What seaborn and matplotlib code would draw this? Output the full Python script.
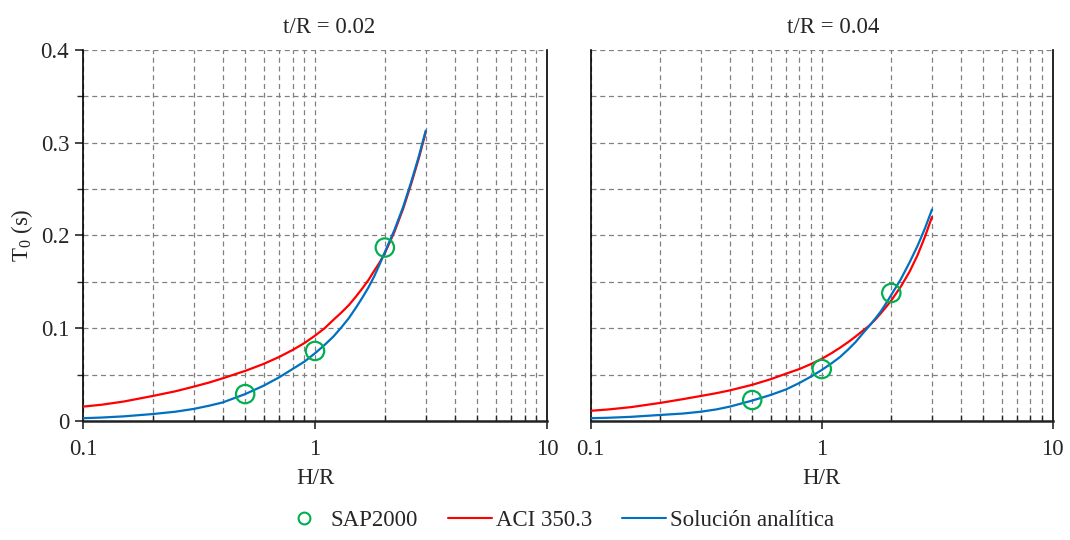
import numpy as np
import pandas as pd
import matplotlib
matplotlib.use("Agg")
import matplotlib.pyplot as plt
import matplotlib.ticker as mticker
from matplotlib.lines import Line2D
import seaborn as sns

# ---------------- data ----------------
panel_titles = ["t/R = 0.02", "t/R = 0.04"]
hr = [0.1, 0.12, 0.15, 0.2, 0.25, 0.3, 0.35, 0.4, 0.5, 0.6, 0.7, 0.8, 0.9, 1.0,
      1.1, 1.2, 1.3, 1.4, 1.5, 1.6, 1.7, 1.8, 1.9, 2.0, 2.2, 2.4, 2.6, 2.8, 3.0]

aci_002 = [0.0155, 0.0175, 0.021, 0.027, 0.032, 0.037, 0.0415, 0.046, 0.054, 0.0615,
           0.069, 0.0765, 0.084, 0.092, 0.100, 0.109, 0.117, 0.125, 0.134, 0.143,
           0.152, 0.162, 0.171, 0.181, 0.204, 0.229, 0.256, 0.283, 0.311]
ana_002 = [0.003, 0.0037, 0.005, 0.0075, 0.010, 0.013, 0.0165, 0.020, 0.029, 0.038,
           0.047, 0.056, 0.064, 0.073, 0.082, 0.091, 0.101, 0.111, 0.122, 0.133,
           0.144, 0.156, 0.169, 0.182, 0.206, 0.231, 0.258, 0.285, 0.313]

aci_004 = [0.011, 0.0125, 0.015, 0.0195, 0.0235, 0.027, 0.030, 0.033, 0.039, 0.045,
           0.051, 0.056, 0.0615, 0.067, 0.073, 0.079, 0.085, 0.091, 0.097, 0.1025,
           0.109, 0.116, 0.123, 0.130, 0.145, 0.161, 0.179, 0.199, 0.220]
ana_004 = [0.003, 0.0035, 0.0045, 0.0065, 0.008, 0.010, 0.0125, 0.0155, 0.022, 0.028,
           0.034, 0.041, 0.048, 0.055, 0.062, 0.069, 0.077, 0.085, 0.094, 0.102,
           0.110, 0.118, 0.127, 0.136, 0.153, 0.171, 0.189, 0.208, 0.228]

sap_hr = [0.5, 1.0, 2.0]
sap_002 = [0.029, 0.0755, 0.187]
sap_004 = [0.0226, 0.056, 0.138]

legend_labels = ["SAP2000", "ACI 350.3", "Solución analítica"]

# ---------------- style ----------------
sns.set_theme(style="white")
plt.rcParams["font.family"] = ["Liberation Serif", "DejaVu Serif"]
plt.rcParams["mathtext.fontset"] = "custom"
plt.rcParams["mathtext.rm"] = "Liberation Serif"
plt.rcParams["mathtext.it"] = "Liberation Serif"

RED = "#FF0000"
BLUE = "#0070C0"
GREEN = "#00B050"
GRID = "#808080"
FS = 16.5

fig = plt.figure(figsize=(10.7, 5.4), dpi=100)
ax1 = fig.add_axes([0.0776, 0.2204, 0.4336, 0.6870])
ax2 = fig.add_axes([0.5521, 0.2204, 0.4318, 0.6870])

panels = [
    (ax1, panel_titles[0], aci_002, ana_002, sap_002, 0.530),
    (ax2, panel_titles[1], aci_004, ana_004, sap_004, 0.525),
]

for i, (ax, title, aci, ana, sap, tx) in enumerate(panels):
    ax.set_xscale("log")
    ax.set_xlim(0.1, 10)
    ax.set_ylim(0, 0.4)

    df = pd.DataFrame({"hr": hr, "aci": aci, "ana": ana})
    sns.lineplot(data=df, x="hr", y="aci", ax=ax, color=RED, linewidth=1.6,
                 sort=False, zorder=3)
    sns.lineplot(data=df, x="hr", y="ana", ax=ax, color=BLUE, linewidth=1.6,
                 sort=False, zorder=4)
    dsap = pd.DataFrame({"hr": sap_hr, "t0": sap})
    sns.scatterplot(data=dsap, x="hr", y="t0", ax=ax, marker="o", s=175,
                    facecolor="none", edgecolor=GREEN, linewidth=1.6, zorder=5)

    ax.xaxis.set_major_locator(mticker.LogLocator(base=10, numticks=10))
    ax.xaxis.set_minor_locator(mticker.LogLocator(base=10, subs=np.arange(2, 10), numticks=10))
    ax.xaxis.set_major_formatter(mticker.FuncFormatter(lambda v, p: f"{v:g}"))
    ax.xaxis.set_minor_formatter(mticker.NullFormatter())
    ax.yaxis.set_major_locator(mticker.MultipleLocator(0.1))
    ax.yaxis.set_minor_locator(mticker.MultipleLocator(0.05))
    ax.yaxis.set_major_formatter(mticker.FuncFormatter(lambda v, p: f"{v:g}"))

    ax.grid(True, which="both", axis="both", color=GRID, linestyle=(0, (4, 3)),
            linewidth=0.9, zorder=0)
    ax.set_axisbelow(True)

    for s in ["left", "bottom", "right"]:
        ax.spines[s].set_visible(True)
        ax.spines[s].set_color("black")
        ax.spines[s].set_linewidth(1.2)
    ax.spines["bottom"].set_color("#222222")
    ax.spines["bottom"].set_linewidth(1.8)
    ax.spines["top"].set_visible(False)

    ax.tick_params(axis="x", which="major", direction="out", length=6, width=1.2,
                   labelsize=FS, pad=7, bottom=True)
    ax.tick_params(axis="x", which="minor", direction="in", length=4, width=1.0,
                   bottom=True)
    ax.tick_params(axis="y", which="major", direction="out", length=6, width=1.2,
                   labelsize=FS, left=True, pad=4)
    ax.tick_params(axis="y", which="minor", direction="out", length=4, width=1.0,
                   left=True)

    ax.set_title(title, fontsize=FS, pad=12, x=tx)
    ax.set_xlabel("H/R", fontsize=FS, labelpad=6)
    if i == 0:
        ax.set_ylabel(r"T$_0$ (s)", fontsize=FS, labelpad=4)
    else:
        ax.set_ylabel("")
        ax.tick_params(axis="y", which="both", labelleft=False, left=False)

    if ax.get_legend() is not None:
        ax.get_legend().remove()

handles = [
    Line2D([], [], linestyle="none", marker="o", markersize=8.5, markerfacecolor="none",
           markeredgecolor=GREEN, markeredgewidth=1.5),
    Line2D([], [], color=RED, linewidth=1.5),
    Line2D([], [], color=BLUE, linewidth=1.5),
]
fig.legend(handles, legend_labels, loc="center", bbox_to_anchor=(0.522, 0.036), ncol=3,
           frameon=False, fontsize=FS, handlelength=1.9, handletextpad=0.2,
           columnspacing=1.3)

fig.savefig("out.png", dpi=100, facecolor="white")
